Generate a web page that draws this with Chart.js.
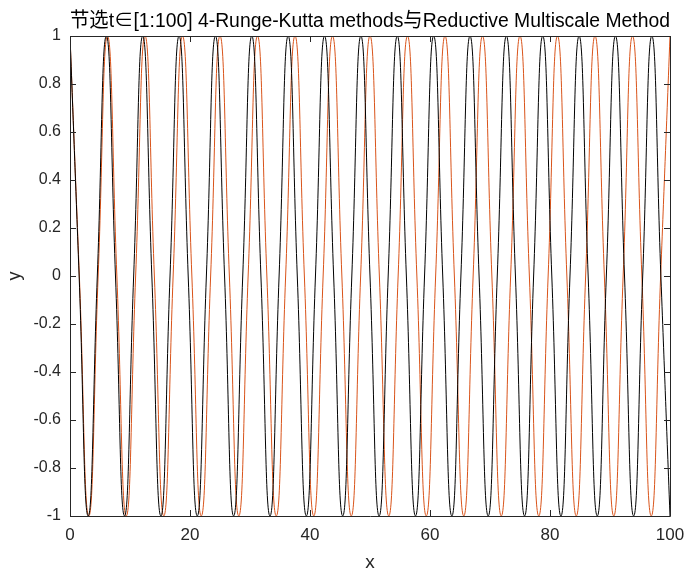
<!DOCTYPE html>
<html lang="zh">
<head>
    <meta charset="UTF-8">
    <title>Runge-Kutta vs Reductive Multiscale</title>
    <script src="https://cdn.jsdelivr.net/npm/chart.js"></script>
    <style>
        html, body { margin: 0; padding: 0; background: #fff; }
        #wrap { width: 688px; height: 571px; }
    </style>
</head>
<body>
    <div id="wrap"><canvas id="plot"></canvas></div>

    <script>
        // black curve (4-Runge-Kutta): extrema and zero crossings
        const xBlack = [0, 1.52, 3.03, 4.55, 6.06, 7.58, 9.09, 10.61, 12.12, 13.64, 15.15, 16.67,
            18.18, 19.70, 21.21, 22.73, 24.24, 25.76, 27.27, 28.79, 30.30, 31.82, 33.33, 34.85,
            36.36, 37.88, 39.39, 40.91, 42.42, 43.94, 45.45, 46.97, 48.48, 50.00, 51.52, 53.03,
            54.55, 56.06, 57.58, 59.09, 60.61, 62.12, 63.64, 65.15, 66.67, 68.18, 69.70, 71.21,
            72.73, 74.24, 75.76, 77.27, 78.79, 80.30, 81.82, 83.33, 84.85, 86.36, 87.88, 89.39,
            90.91, 92.42, 93.94, 95.45, 96.97, 98.48, 100.00];
        const yBlack = [1, 0, -1, 0, 1, 0, -1, 0, 1, 0, -1, 0,
            1, 0, -1, 0, 1, 0, -1, 0, 1, 0, -1, 0,
            1, 0, -1, 0, 1, 0, -1, 0, 1, 0, -1, 0,
            1, 0, -1, 0, 1, 0, -1, 0, 1, 0, -1, 0,
            1, 0, -1, 0, 1, 0, -1, 0, 1, 0, -1, 0,
            1, 0, -1, 0, 1, 0, -1];

        // orange curve (Reductive Multiscale Method)
        const xOrange = [0, 1.56, 3.13, 4.69, 6.25, 7.81, 9.38, 10.94, 12.50, 14.06, 15.63, 17.19,
            18.75, 20.31, 21.88, 23.44, 25.00, 26.56, 28.13, 29.69, 31.25, 32.81, 34.38, 35.94,
            37.50, 39.06, 40.63, 42.19, 43.75, 45.31, 46.88, 48.44, 50.00, 51.56, 53.13, 54.69,
            56.25, 57.81, 59.38, 60.94, 62.50, 64.06, 65.63, 67.19, 68.75, 70.31, 71.88, 73.44,
            75.00, 76.56, 78.13, 79.69, 81.25, 82.81, 84.38, 85.94, 87.50, 89.06, 90.63, 92.19,
            93.75, 95.31, 96.88, 98.44, 100.00];
        const yOrange = [1, 0, -1, 0, 1, 0, -1, 0, 1, 0, -1, 0,
            1, 0, -1, 0, 1, 0, -1, 0, 1, 0, -1, 0,
            1, 0, -1, 0, 1, 0, -1, 0, 1, 0, -1, 0,
            1, 0, -1, 0, 1, 0, -1, 0, 1, 0, -1, 0,
            1, 0, -1, 0, 1, 0, -1, 0, 1, 0, -1, 0,
            1, 0, -1, 0, 1];

        const xTicks = [0, 20, 40, 60, 80, 100];
        const yTicks = [-1, -0.8, -0.6, -0.4, -0.2, 0, 0.2, 0.4, 0.6, 0.8, 1];

        const titleText = '节选t∈[1:100] 4-Runge-Kutta methods与Reductive Multiscale Method';
        const fontFamily = '"Liberation Sans", Arial, "Noto Sans CJK SC", sans-serif';
        const axisColor = '#262626';

        const toPoints = (xs, ys) => xs.map((x, i) => ({ x: x, y: ys[i] }));

        // matlab style box with inward ticks
        const boxPlugin = {
            id: 'box',
            afterDraw(chart) {
                const { ctx, chartArea: a, scales } = chart;
                const len = 6;
                ctx.save();
                ctx.strokeStyle = axisColor;
                ctx.lineWidth = 1;
                ctx.beginPath();
                ctx.rect(a.left + 0.5, a.top + 0.5, a.right - a.left, a.bottom - a.top);
                xTicks.forEach(v => {
                    const px = Math.round(scales.x.getPixelForValue(v)) + 0.5;
                    ctx.moveTo(px, a.bottom); ctx.lineTo(px, a.bottom - len);
                    ctx.moveTo(px, a.top); ctx.lineTo(px, a.top + len);
                });
                yTicks.forEach(v => {
                    const py = Math.round(scales.y.getPixelForValue(v)) + 0.5;
                    ctx.moveTo(a.left, py); ctx.lineTo(a.left + len, py);
                    ctx.moveTo(a.right, py); ctx.lineTo(a.right - len, py);
                });
                ctx.stroke();
                ctx.restore();
            }
        };

        new Chart(document.getElementById('plot'), {
            type: 'scatter',
            data: {
                datasets: [
                    {
                        label: '4-Runge-Kutta',
                        data: toPoints(xBlack, yBlack),
                        showLine: true,
                        borderColor: '#000000',
                        borderWidth: 1,
                        pointRadius: 0,
                        tension: 0.5
                    },
                    {
                        label: 'Reductive Multiscale Method',
                        data: toPoints(xOrange, yOrange),
                        showLine: true,
                        borderColor: '#D95319',
                        borderWidth: 1,
                        pointRadius: 0,
                        tension: 0.5
                    }
                ]
            },
            options: {
                responsive: true,
                maintainAspectRatio: false,
                animation: false,
                layout: { padding: { left: 0, right: 18, top: 0, bottom: 0 } },
                plugins: {
                    legend: { display: false },
                    tooltip: { enabled: false },
                    title: {
                        display: true,
                        fullSize: false,
                        text: titleText,
                        color: '#000',
                        font: { family: fontFamily, size: 20, weight: 'normal', lineHeight: 1.2 },
                        padding: { top: 9, bottom: 3 }
                    }
                },
                scales: {
                    x: {
                        type: 'linear',
                        min: 0,
                        max: 100,
                        grid: { display: false, drawTicks: false },
                        border: { display: false },
                        afterBuildTicks: s => { s.ticks = xTicks.map(v => ({ value: v })); },
                        afterFit: s => {
                            s.height = 55;
                            s.paddingLeft = 0;
                            s.paddingRight = 0;
                        },
                        ticks: {
                            color: axisColor,
                            padding: 9,
                            maxRotation: 0,
                            font: { family: fontFamily, size: 17 },
                            callback: v => String(v)
                        },
                        title: {
                            display: true,
                            text: 'x',
                            color: axisColor,
                            padding: { top: 0, bottom: -3.4 },
                            font: { family: fontFamily, size: 19 }
                        }
                    },
                    y: {
                        type: 'linear',
                        min: -1,
                        max: 1,
                        grid: { display: false, drawTicks: false },
                        border: { display: false },
                        afterBuildTicks: s => { s.ticks = yTicks.map(v => ({ value: v })); },
                        afterFit: s => { s.width = 70; },
                        ticks: {
                            color: axisColor,
                            padding: 9,
                            font: { family: fontFamily, size: 16 },
                            callback: v => String(Math.round(v * 10) / 10)
                        },
                        title: {
                            display: true,
                            text: 'y',
                            color: axisColor,
                            padding: { top: 4, bottom: 0 },
                            font: { family: fontFamily, size: 18 }
                        }
                    }
                }
            },
            plugins: [boxPlugin]
        });
    </script>
</body>
</html>
